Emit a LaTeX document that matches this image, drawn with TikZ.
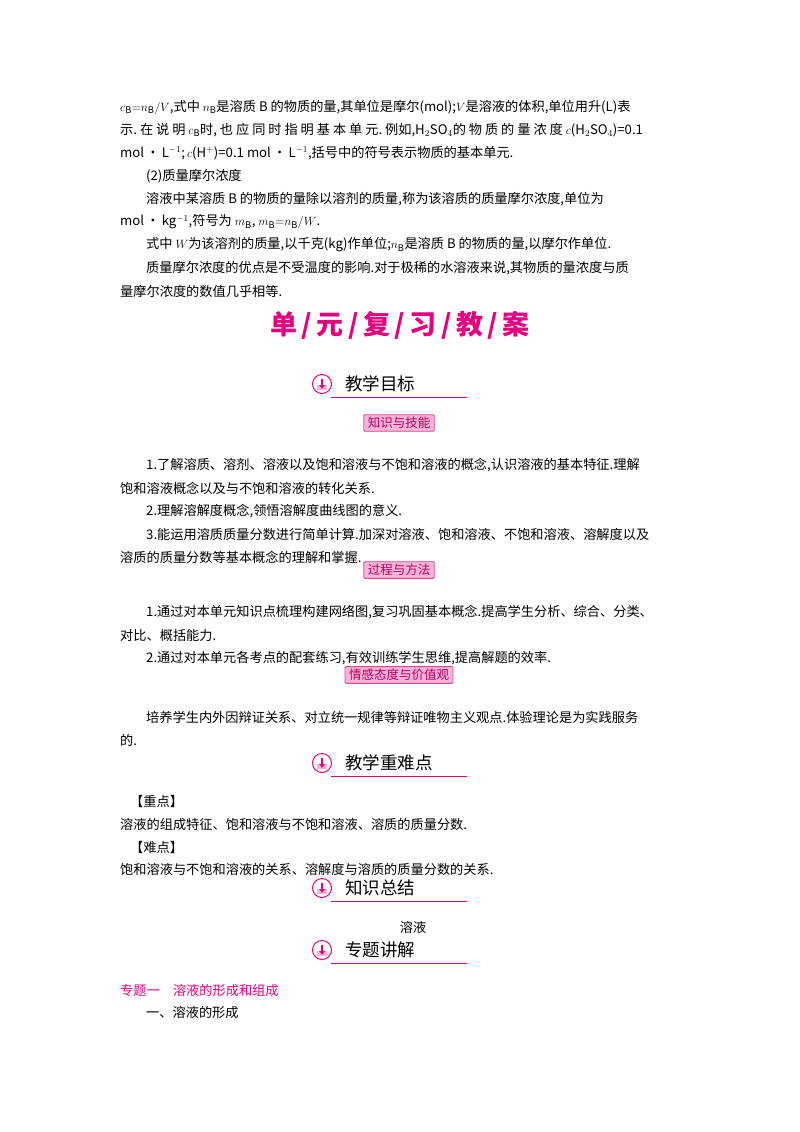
\documentclass[tikz,border=0pt]{standalone}
\usepackage{fontspec}
\usetikzlibrary{arrows.meta}
\setmainfont{Noto Sans CJK SC}
\definecolor{mag}{RGB}{228,0,127}
\definecolor{pinkl}{RGB}{246,180,215}
\definecolor{pinkd}{RGB}{220,70,150}
\begin{document}
\begin{tikzpicture}[x=1pt,y=-1pt,
  body/.style={anchor=west,inner sep=0pt,font=\fontsize{13.2}{15}\selectfont},
  head/.style={anchor=west,inner sep=0pt,font=\fontsize{17.5}{20}\selectfont},
  tag/.style={draw=pinkd,line width=0.9pt,fill=pinkl,rounded corners=1pt,text=mag!80!black,inner xsep=4pt,inner ysep=2.5pt,font=\fontsize{12.5}{14}\selectfont}]
\useasboundingbox (0,0) rectangle (800,1132);
\newcommand\hd[3]{%
  \node[draw=mag,line width=1pt,fill=white,circle,minimum size=19pt,inner sep=0pt] (#1i) at (322,#2) {};
  \fill[pinkl] ([xshift=-5pt,yshift=-1pt]#1i.center) rectangle ([xshift=5pt,yshift=-6pt]#1i.center);
  \draw[mag,line width=2.2pt,-{Latex[length=4pt,width=6.5pt]}] ([yshift=5.5pt]#1i.center) -- ([yshift=-5pt]#1i.center);
  \draw[mag,line width=0.9pt] (331,#2+13) -- (467,#2+13);
  \node[head] (#1t) at (345,#2) {#3};}
\node[body] (l1) at (120,107) {$c_{\mathrm B}{=}n_{\mathrm B}/V$,式中 $n_{\mathrm B}$是溶质 B 的物质的量,其单位是摩尔(mol);$V$是溶液的体积,单位用升(L)表};
\node[body] (l2) at (120,130) {示.\ 在\ 说\ 明\ $c_{\mathrm B}$时,\ 也\ 应\ 同\ 时\ 指\ 明\ 基\ 本\ 单\ 元.\ 例如,H$_2$SO$_4$的\ 物\ 质\ 的\ 量\ 浓\ 度\ $c$(H$_2$SO$_4$)=0.1};
\node[body] (l3) at (120,153) {mol\,•\,L$^{-1}$;\,$c$(H$^+$)=0.1 mol\,•\,L$^{-1}$,括号中的符号表示物质的基本单元.};
\node[body] (l4) at (146,176) {(2)质量摩尔浓度};
\node[body] (l5) at (146,199) {溶液中某溶质 B 的物质的量除以溶剂的质量,称为该溶质的质量摩尔浓度,单位为};
\node[body] (l6) at (120,222) {mol\,•\,kg$^{-1}$,符号为 $m_{\mathrm B}$, $m_{\mathrm B}{=}n_{\mathrm B}/W$.};
\node[body] (l7) at (146,245) {式中 $W$为该溶剂的质量,以千克(kg)作单位;$n_{\mathrm B}$是溶质 B 的物质的量,以摩尔作单位.};
\node[body] (l8) at (146,268) {质量摩尔浓度的优点是不受温度的影响.对于极稀的水溶液来说,其物质的量浓度与质};
\node[body] (l9) at (120,291) {量摩尔浓度的数值几乎相等.};
\node[font=\fontsize{27}{30}\selectfont\bfseries,text=mag] (title) at (400,325) {单\,/\,元\,/\,复\,/\,习\,/\,教\,/\,案};
\hd{h1}{384}{教学目标}
\node[tag] (t1) at (399,423) {知识与技能};
\node[body] (a1) at (146,465) {1.了解溶质、溶剂、溶液以及饱和溶液与不饱和溶液的概念,认识溶液的基本特征.理解};
\node[body] (a2) at (120,488) {饱和溶液概念以及与不饱和溶液的转化关系.};
\node[body] (a3) at (146,511) {2.理解溶解度概念,领悟溶解度曲线图的意义.};
\node[body] (a4) at (146,534) {3.能运用溶质质量分数进行简单计算.加深对溶液、饱和溶液、不饱和溶液、溶解度以及};
\node[body] (a5) at (120,557) {溶质的质量分数等基本概念的理解和掌握.};
\node[tag] (t2) at (399,570) {过程与方法};
\node[body] (b1) at (146,612) {1.通过对本单元知识点梳理构建网络图,复习巩固基本概念.提高学生分析、综合、分类、};
\node[body] (b2) at (120,635) {对比、概括能力.};
\node[body] (b3) at (146,658) {2.通过对本单元各考点的配套练习,有效训练学生思维,提高解题的效率.};
\node[tag] (t3) at (399,675) {情感态度与价值观};
\node[body] (c1) at (146,717) {培养学生内外因辩证关系、对立统一规律等辩证唯物主义观点.体验理论是为实践服务};
\node[body] (c2) at (120,740) {的.};
\hd{h2}{763}{教学重难点}
\node[body] (d1) at (130,801) {【重点】};
\node[body] (d2) at (120,824) {溶液的组成特征、饱和溶液与不饱和溶液、溶质的质量分数.};
\node[body] (d3) at (130,847) {【难点】};
\node[body] (d4) at (120,869) {饱和溶液与不饱和溶液的关系、溶解度与溶质的质量分数的关系.};
\hd{h3}{888}{知识总结}
\node[body,anchor=center] (e1) at (413,927) {溶液};
\hd{h4}{950}{专题讲解}
\node[body,text=mag] (f1) at (120,990) {专题一\quad 溶液的形成和组成};
\node[body] (f2) at (146,1012) {一、溶液的形成};
\end{tikzpicture}
\end{document}
